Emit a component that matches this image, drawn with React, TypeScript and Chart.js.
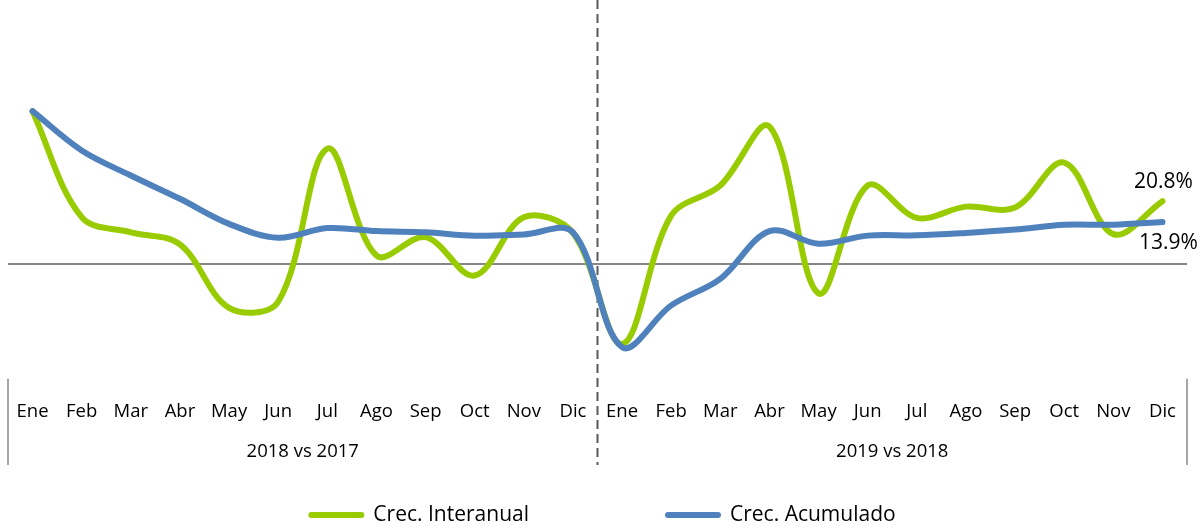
import React, { useEffect, useRef } from "react";
import { Chart, registerables } from "chart.js";

Chart.register(...registerables);

const months = ["Ene", "Feb", "Mar", "Abr", "May", "Jun", "Jul", "Ago", "Sep", "Oct", "Nov", "Dic"];
const groupLabels = ["2018 vs 2017", "2019 vs 2018"];
const categories = [...months, ...months];

const interanual2018 = [50.6, 15.5, 10.5, 6.5, -14.5, -12.5, 38.2, 2.8, 8.9, -3.8, 15.5, 10.3];
const interanual2019 = [-26.5, 16, 26, 45.5, -9.7, 26, 15.3, 19, 18.7, 33.6, 9.9, 20.8];
const acumulado2018 = [50.6, 37.6, 29.3, 21.6, 13.3, 8.7, 11.9, 10.9, 10.5, 9.4, 9.8, 10.5];
const acumulado2019 = [-27.5, -13.7, -4.9, 10.9, 6.7, 9.4, 9.5, 10.3, 11.4, 13, 13, 13.9];

const seriesNames = ["Crec. Interanual", "Crec. Acumulado"];
const seriesColors = ["#99CC00", "#4F81BD"];
const endLabels = ["20.8%", "13.9%"];

const FONT = "'Open Sans', sans-serif";
const W = 1204;
const H = 527;

const decorPlugin = {
  id: "decor",
  beforeDatasetsDraw(chart: any) {
    const { ctx, chartArea, scales } = chart;
    const x = scales.x;
    const y = scales.y;
    ctx.save();
    // zero line
    const y0 = y.getPixelForValue(0);
    ctx.strokeStyle = "#868686";
    ctx.lineWidth = 2;
    ctx.beginPath();
    ctx.moveTo(chartArea.left, y0);
    ctx.lineTo(chartArea.right, y0);
    ctx.stroke();
    // dashed separator
    const xm = x.getPixelForValue(11.5);
    ctx.strokeStyle = "#595959";
    ctx.lineWidth = 2;
    ctx.setLineDash([9, 5]);
    ctx.beginPath();
    ctx.moveTo(xm, 0);
    ctx.lineTo(xm, 465);
    ctx.stroke();
    ctx.restore();
  },
  afterDraw(chart: any) {
    const { ctx, chartArea, scales } = chart;
    const x = scales.x;
    ctx.save();
    // side separators in axis area
    ctx.strokeStyle = "#A6A6A6";
    ctx.lineWidth = 2;
    [chartArea.left, chartArea.right].forEach((px: number) => {
      ctx.beginPath();
      ctx.moveTo(px, chartArea.bottom);
      ctx.lineTo(px, 465);
      ctx.stroke();
    });
    // group labels
    ctx.fillStyle = "#000";
    ctx.font = `18.5px ${FONT}`;
    ctx.textAlign = "center";
    ctx.textBaseline = "middle";
    const xm = x.getPixelForValue(11.5);
    ctx.fillText(groupLabels[0], (chartArea.left + xm) / 2, 452);
    ctx.fillText(groupLabels[1], (xm + chartArea.right) / 2, 452);
    // end labels
    ctx.font = `21px ${FONT}`;
    chart.data.datasets.forEach((ds: any, i: number) => {
      const meta = chart.getDatasetMeta(i);
      const pt = meta.data[meta.data.length - 1];
      if (!pt) return;
      if (i === 0) ctx.fillText(endLabels[0], pt.x + 1, pt.y - 19);
      else ctx.fillText(endLabels[1], pt.x + 6, pt.y + 21);
    });
    // legend
    ctx.font = `21px ${FONT}`;
    ctx.textAlign = "left";
    const lineW = 56;
    const gapText = 9;
    const gapItems = 136;
    const widths = chart.data.datasets.map((ds: any) => lineW + gapText + ctx.measureText(ds.label).width);
    const total = widths.reduce((a: number, b: number) => a + b, 0) + gapItems * (widths.length - 1);
    let cx = W / 2 - total / 2;
    const ly = 515;
    chart.data.datasets.forEach((ds: any, i: number) => {
      ctx.strokeStyle = ds.borderColor;
      ctx.lineWidth = 6;
      ctx.lineCap = "round";
      ctx.beginPath();
      ctx.moveTo(cx + 3, ly);
      ctx.lineTo(cx + lineW - 3, ly);
      ctx.stroke();
      ctx.fillStyle = "#000";
      ctx.fillText(ds.label, cx + lineW + gapText, ly);
      cx += widths[i] + gapItems;
    });
    ctx.restore();
  },
};

export default function App() {
  const canvasRef = useRef<HTMLCanvasElement | null>(null);

  useEffect(() => {
    if (!canvasRef.current) return;
    const chart = new Chart(canvasRef.current, {
      type: "line",
      data: {
        labels: categories,
        datasets: [
          {
            label: seriesNames[0],
            data: [...interanual2018, ...interanual2019],
            borderColor: seriesColors[0],
            backgroundColor: seriesColors[0],
            borderWidth: 6,
            pointRadius: 0,
            tension: 0.35,
            borderCapStyle: "round",
            borderJoinStyle: "round",
            order: 1,
          },
          {
            label: seriesNames[1],
            data: [...acumulado2018, ...acumulado2019],
            borderColor: seriesColors[1],
            backgroundColor: seriesColors[1],
            borderWidth: 6,
            pointRadius: 0,
            tension: 0.35,
            borderCapStyle: "round",
            borderJoinStyle: "round",
            order: 0,
          },
        ],
      },
      options: {
        animation: false,
        responsive: true,
        maintainAspectRatio: false,
        layout: { padding: { left: 8, right: 17, top: 52.6, bottom: 0 } },
        plugins: {
          legend: { display: false },
          tooltip: { enabled: false },
          title: { display: false },
        },
        scales: {
          x: {
            offset: true,
            grid: { display: false },
            border: { display: false },
            ticks: {
              color: "#000",
              font: { family: FONT, size: 18.5 },
              padding: 14,
              maxRotation: 0,
              autoSkip: false,
            },
            afterFit: (scale: any) => {
              scale.height = H - 378.8;
              scale.paddingLeft = 0;
              scale.paddingRight = 0;
            },
          },
          y: { display: false, min: -38, max: 70 },
        },
      },
      plugins: [decorPlugin],
    });
    return () => chart.destroy();
  }, []);

  return (
    <div style={{ position: "absolute", left: 0, top: 0, width: W, height: H, background: "#fff" }}>
      <canvas ref={canvasRef} />
    </div>
  );
}
